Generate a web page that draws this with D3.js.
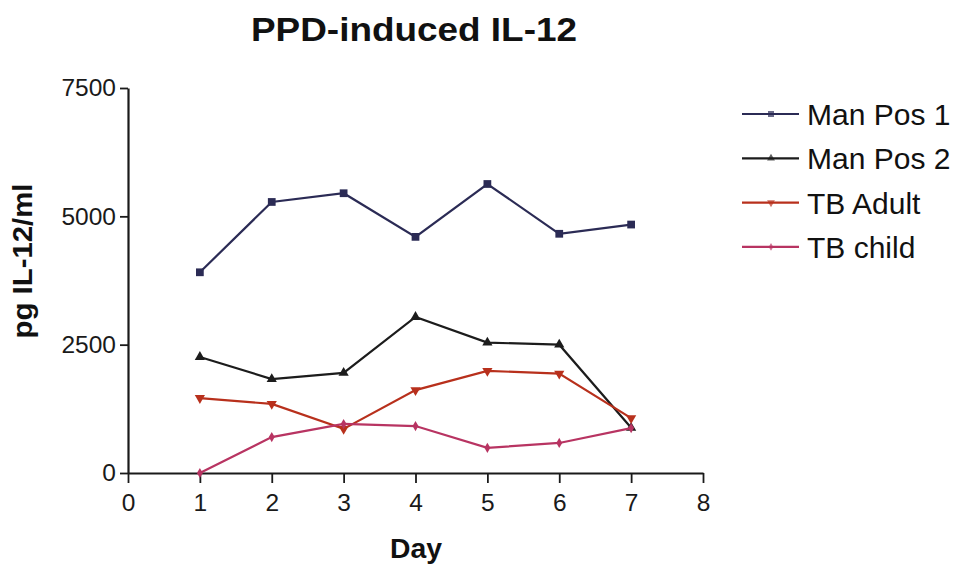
<!DOCTYPE html>
<html>
<head>
<meta charset="utf-8">
<script src="https://cdn.jsdelivr.net/npm/d3@7"></script>
<style>
  html, body { margin: 0; padding: 0; background: #fff; }
  svg { display: block; font-family: "Liberation Sans", Arial, sans-serif; }
</style>
</head>
<body>
<svg id="chart" width="960" height="567"></svg>
<script>
// Days of culture
const days = [1, 2, 3, 4, 5, 6, 7];
// PPD-induced IL-12 (pg/ml) per donor
const manPos1 = [3910, 5280, 5450, 4600, 5630, 4660, 4840];
const manPos2 = [2260, 1830, 1950, 3040, 2540, 2500, 880];
const tbAdult = [1460, 1345, 860, 1615, 1990, 1935, 1070];
const tbChild = [0, 700, 955, 915, 490, 585, 875];
const seriesNames = ["Man Pos 1", "Man Pos 2", "TB Adult", "TB child"];
const xTicks = [0, 1, 2, 3, 4, 5, 6, 7, 8];
const yTicks = [0, 2500, 5000, 7500];

const series = [
  { name: seriesNames[0], values: manPos1, color: "#2b2b55", symbol: d3.symbolSquare, size: 60, rot: 0 },
  { name: seriesNames[1], values: manPos2, color: "#1c1c1c", symbol: d3.symbolTriangle, size: 45, rot: 0 },
  { name: seriesNames[2], values: tbAdult, color: "#b8301c", symbol: d3.symbolTriangle, size: 45, rot: 180 },
  { name: seriesNames[3], values: tbChild, color: "#b83462", symbol: d3.symbolDiamond, size: 30, rot: 0 }
];

const svg = d3.select("#chart");
const plotLeft = 128, plotRight = 703, plotTop = 88, plotBottom = 473;

const x = d3.scaleLinear().domain([0, 8]).range([plotLeft, plotRight]);
const y = d3.scaleLinear().domain([0, 7500]).range([plotBottom, plotTop]);

// Title
svg.append("text")
  .attr("x", 414).attr("y", 41)
  .attr("text-anchor", "middle")
  .attr("font-size", 33).attr("font-weight", "bold")
  .attr("fill", "#111")
  .attr("textLength", 326).attr("lengthAdjust", "spacingAndGlyphs")
  .text("PPD-induced IL-12");

// Axes
const xAxis = svg.append("g")
  .attr("transform", `translate(0,${plotBottom})`)
  .call(d3.axisBottom(x).tickValues(xTicks).tickFormat(d3.format("d")).tickSize(10).tickSizeOuter(0));
const yAxis = svg.append("g")
  .attr("transform", `translate(${plotLeft},0)`)
  .call(d3.axisLeft(y).tickValues(yTicks).tickFormat(d3.format("d")).tickSize(8).tickSizeOuter(0));

[xAxis, yAxis].forEach(g => {
  g.select(".domain").attr("stroke", "#1a1a1a").attr("stroke-width", 2.2);
  g.selectAll(".tick line").attr("stroke", "#1a1a1a").attr("stroke-width", 1.8);
  g.selectAll(".tick text")
    .attr("font-size", 24.5).attr("fill", "#1a1a1a")
    .attr("font-family", "'Liberation Sans', Arial, sans-serif");
});
xAxis.selectAll(".tick text").attr("dy", null).attr("y", 38);
yAxis.selectAll(".tick text").attr("x", -12);

// Axis titles
svg.append("text")
  .attr("x", 416).attr("y", 558)
  .attr("text-anchor", "middle")
  .attr("font-size", 27).attr("font-weight", "bold").attr("fill", "#111")
  .attr("textLength", 52).attr("lengthAdjust", "spacingAndGlyphs")
  .text("Day");
svg.append("text")
  .attr("transform", "translate(32,261) rotate(-90)")
  .attr("text-anchor", "middle")
  .attr("font-size", 28).attr("font-weight", "bold").attr("fill", "#111")
  .attr("textLength", 155).attr("lengthAdjust", "spacingAndGlyphs")
  .text("pg IL-12/ml");

// Lines and markers
const line = d3.line().x((d, i) => x(days[i])).y(d => y(d));
series.forEach(s => {
  svg.append("path")
    .datum(s.values)
    .attr("fill", "none")
    .attr("stroke", s.color)
    .attr("stroke-width", 2.2)
    .attr("d", line);
  svg.append("g").selectAll("path")
    .data(s.values)
    .join("path")
    .attr("transform", (d, i) => `translate(${x(days[i])},${y(d)}) rotate(${s.rot})`)
    .attr("d", d3.symbol().type(s.symbol).size(s.size))
    .attr("fill", s.color);
});

// Legend
const legend = svg.append("g");
series.forEach((s, i) => {
  const ly = 114 + i * 44.3;
  legend.append("line")
    .attr("x1", 742).attr("x2", 799)
    .attr("y1", ly).attr("y2", ly)
    .attr("stroke", s.color).attr("stroke-width", 2.2);
  legend.append("path")
    .attr("transform", `translate(771,${ly}) rotate(${s.rot})`)
    .attr("d", d3.symbol().type(s.symbol).size(s.size * 0.6))
    .attr("fill", s.color).attr("opacity", 0.7);
  legend.append("text")
    .attr("x", 807).attr("y", ly + 11)
    .attr("font-size", 30).attr("fill", "#111")
    .text(s.name);
});
</script>
</body>
</html>
